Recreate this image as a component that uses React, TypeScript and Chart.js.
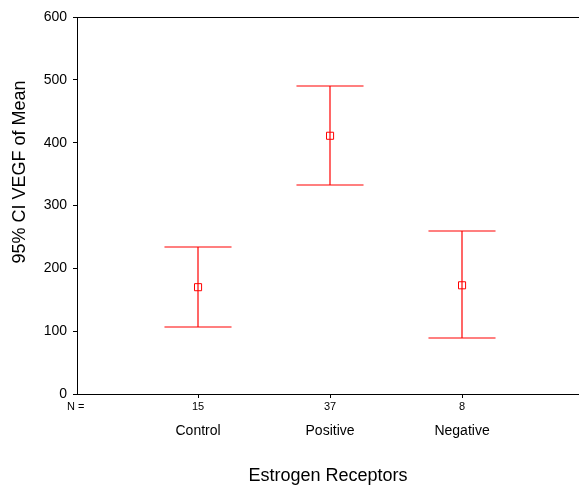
import React, { useEffect, useRef } from "react";
import { Chart, registerables } from "chart.js";

Chart.register(...registerables);

const categories = ["Control", "Positive", "Negative"];
const nCounts = ["15", "37", "8"];
const means = [170, 411, 173];
const upper = [234, 490, 260];
const lower = [106, 333, 89];
const yTicks = [0, 100, 200, 300, 400, 500, 600];

const RED = "rgb(255,0,0)";
const FONT = "'Liberation Sans', Arial, sans-serif";

const errorBars = {
  id: "errorBars",
  beforeDatasetsDraw(chart: any) {
    const { ctx, scales } = chart;
    const xs = scales.x;
    const ys = scales.y;
    const half = Math.abs(xs.getPixelForValue(1.254) - xs.getPixelForValue(1));
    ctx.save();
    ctx.strokeStyle = RED;
    ctx.lineWidth = 1.2;
    categories.forEach((_, i) => {
      const x = Math.round(xs.getPixelForValue(i + 1));
      const yh = Math.round(ys.getPixelForValue(upper[i]));
      const yl = Math.round(ys.getPixelForValue(lower[i]));
      ctx.beginPath();
      ctx.moveTo(x, yh);
      ctx.lineTo(x, yl);
      ctx.stroke();
      ctx.beginPath();
      ctx.moveTo(x - half, yh);
      ctx.lineTo(x + half, yh);
      ctx.stroke();
      ctx.beginPath();
      ctx.moveTo(x - half, yl);
      ctx.lineTo(x + half, yl);
      ctx.stroke();
    });
    ctx.restore();
  },
  afterDraw(chart: any) {
    const { ctx } = chart;
    ctx.save();
    ctx.fillStyle = "#000";
    ctx.font = `11px ${FONT}`;
    ctx.textAlign = "left";
    ctx.textBaseline = "middle";
    ctx.fillText("N =", 67, 407);
    ctx.font = `18px ${FONT}`;
    ctx.translate(20, 172);
    ctx.rotate(-Math.PI / 2);
    ctx.textAlign = "center";
    ctx.fillText("95% CI VEGF of Mean", 0, 0);
    ctx.restore();
  },
};

export default function App() {
  const ref = useRef<HTMLCanvasElement | null>(null);
  useEffect(() => {
    if (!ref.current) return;
    const chart = new Chart(ref.current, {
      type: "scatter",
      data: {
        datasets: [
          {
            data: means.map((m, i) => ({ x: i + 1, y: m })),
            pointStyle: "rect",
            radius: 5,
            hoverRadius: 5,
            borderColor: RED,
            backgroundColor: "rgba(0,0,0,0)",
            borderWidth: 1,
          },
        ],
      },
      options: {
        animation: false,
        responsive: false,
        events: [],
        layout: { autoPadding: false, padding: { top: 17, left: 0, right: 0, bottom: 0 } },
        plugins: { legend: { display: false }, tooltip: { enabled: false } },
        scales: {
          x: {
            type: "linear",
            position: "bottom",
            min: 0.083,
            max: 3.886,
            afterBuildTicks: (s: any) => {
              s.ticks = nCounts.map((_, i) => ({ value: i + 1 }));
            },
            afterFit: (s: any) => {
              s.height = 25;
              s.paddingLeft = 0;
              s.paddingRight = 0;
            },
            ticks: {
              callback: (v: any) => nCounts[Number(v) - 1] ?? "",
              font: { family: FONT, size: 11 },
              color: "#000",
              padding: 2,
              maxRotation: 0,
              autoSkip: false,
            },
            grid: { drawOnChartArea: false, tickLength: 4, tickColor: "#000" },
            border: { color: "#000", width: 1 },
          },
          x2: {
            type: "linear",
            position: "bottom",
            min: 0.083,
            max: 3.886,
            afterBuildTicks: (s: any) => {
              s.ticks = categories.map((_, i) => ({ value: i + 1 }));
            },
            afterFit: (s: any) => {
              s.height = 68;
              s.paddingLeft = 0;
              s.paddingRight = 0;
            },
            ticks: {
              callback: (v: any) => categories[Number(v) - 1] ?? "",
              font: { family: FONT, size: 14 },
              color: "#000",
              padding: 4,
              maxRotation: 0,
              autoSkip: false,
            },
            grid: { display: false, drawTicks: false },
            border: { display: false },
            title: {
              display: true,
              text: "Estrogen Receptors",
              font: { family: FONT, size: 18 },
              color: "#000",
              padding: 0,
            },
          },
          y: {
            type: "linear",
            min: 0,
            max: 600,
            afterBuildTicks: (s: any) => {
              s.ticks = yTicks.map((v) => ({ value: v }));
            },
            afterFit: (s: any) => {
              s.width = 77;
            },
            ticks: {
              font: { family: FONT, size: 14 },
              color: "#000",
              padding: 6,
            },
            grid: {
              color: (c: any) => (c.tick && c.tick.value === 600 ? "#000" : "rgba(0,0,0,0)"),
              tickColor: "#000",
              tickLength: 4,
            },
            border: { color: "#000", width: 1 },
          },
        },
      },
      plugins: [errorBars],
    });
    return () => chart.destroy();
  }, []);
  return (
    <div style={{ position: "fixed", left: 0, top: 0, width: 579, height: 487, background: "#fff" }}>
      <canvas ref={ref} width={579} height={487} />
    </div>
  );
}
